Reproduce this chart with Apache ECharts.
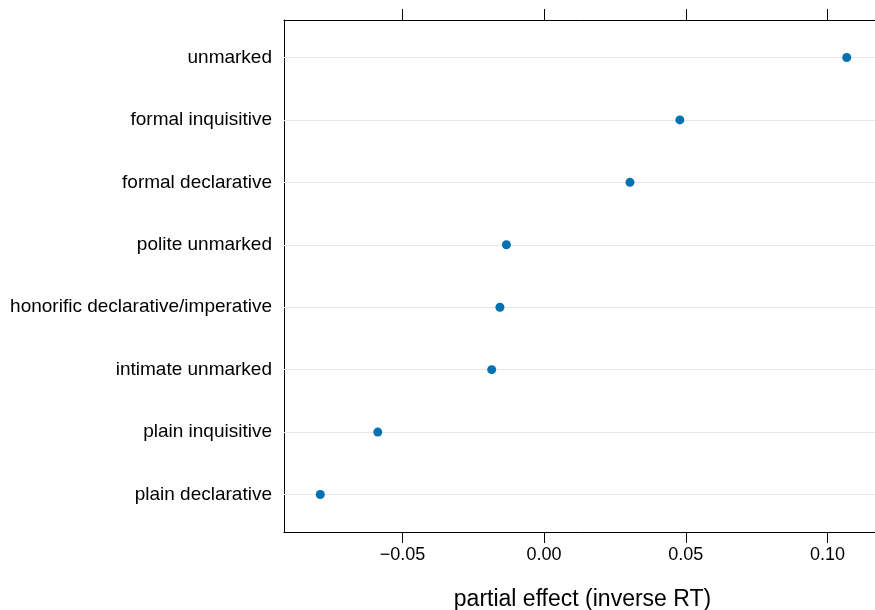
<!DOCTYPE html>
<html>
<head>
<meta charset="utf-8">
<script src="https://cdn.jsdelivr.net/npm/echarts@6/dist/echarts.min.js"></script>
<style>html,body{margin:0;padding:0;background:#fff;}#c{width:875px;height:610px;}</style>
</head>
<body>
<div id="c"></div>
<script>
// categories listed top to bottom
var categories = ["unmarked", "formal inquisitive", "formal declarative", "polite unmarked",
  "honorific declarative/imperative", "intimate unmarked", "plain inquisitive", "plain declarative"];
var effects = [0.1068, 0.0479, 0.0303, -0.0133, -0.0156, -0.0185, -0.0587, -0.0790];
var xTicks = [-0.05, 0.00, 0.05, 0.10];
var xTitle = "partial effect (inverse RT)";

var rows = categories.map(function (c, i) { return i + 1; });
var points = effects.map(function (v, i) { return [v, i + 1]; });

function fmt(v) {
  var s = Math.abs(v).toFixed(2);
  return v < -1e-9 ? "\u2212" + s : s;
}

var chart = echarts.init(document.getElementById('c'), null, {renderer: 'canvas'});
var font = "Liberation Sans, Arial, Helvetica, sans-serif";
chart.setOption({
  animation: false,
  backgroundColor: '#ffffff',
  grid: {left: 284, right: -6, top: 20, bottom: 78, containLabel: false, outerBoundsMode: 'none'},
  xAxis: [{
    type: 'value', position: 'bottom', min: -0.0918, max: 0.1189,
    name: xTitle, nameLocation: 'middle', nameGap: 56,
    nameTextStyle: {fontFamily: font, fontSize: 23, color: '#000'},
    axisLine: {show: true, onZero: false, lineStyle: {color: '#000', width: 1}},
    axisTick: {show: true, length: 11, customValues: xTicks, lineStyle: {color: '#000'}},
    axisLabel: {show: true, customValues: xTicks, formatter: fmt, margin: 14,
      fontFamily: font, fontSize: 18, color: '#000'},
    splitLine: {show: false}
  }, {
    type: 'value', position: 'top', min: -0.0918, max: 0.1189,
    axisLine: {show: true, onZero: false, lineStyle: {color: '#000', width: 1}},
    axisTick: {show: true, length: 11, customValues: xTicks, lineStyle: {color: '#000'}},
    axisLabel: {show: false},
    splitLine: {show: false}
  }],
  yAxis: {
    type: 'value', min: 0.4, max: 8.6, inverse: true,
    axisLine: {show: true, onZero: false, lineStyle: {color: '#000', width: 1}},
    axisTick: {show: false},
    axisLabel: {show: true, customValues: rows, margin: 12,
      formatter: function (v) { return categories[Math.round(v) - 1] || ''; },
      fontFamily: font, fontSize: 19, color: '#000'},
    splitLine: {show: false}
  },
  series: [{
    type: 'line', data: [], silent: true, z: 1,
    markLine: {
      silent: true, symbol: ['none', 'none'], label: {show: false},
      lineStyle: {color: '#e6e6e6', type: 'solid', width: 1},
      data: rows.map(function (r) { return {yAxis: r}; })
    }
  }, {
    type: 'scatter', data: points, z: 5,
    symbol: 'circle', symbolSize: 9,
    itemStyle: {color: '#0072B2', opacity: 1}
  }]
});
</script>
</body>
</html>
